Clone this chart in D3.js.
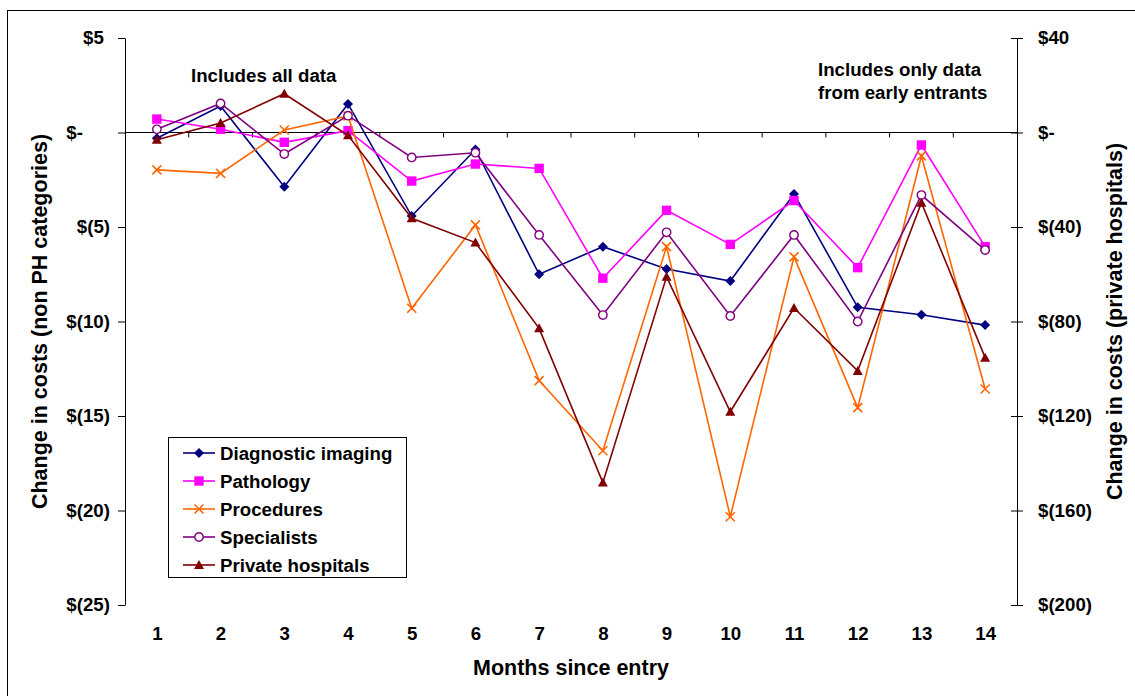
<!DOCTYPE html>
<html>
<head>
<meta charset="utf-8">
<script src="https://cdn.jsdelivr.net/npm/d3@7"></script>
<style>
  html, body { margin: 0; padding: 0; background: #fff; }
  svg { display: block; font-family: "Liberation Sans", Arial, sans-serif; }
</style>
</head>
<body>
<svg id="chart" width="1135" height="696"></svg>
<script>
// Months since entry
const categories = [1, 2, 3, 4, 5, 6, 7, 8, 9, 10, 11, 12, 13, 14];

// Change in costs, left axis (non PH categories)
const diagnosticImaging = [-0.3, 1.4, -2.87, 1.51, -4.42, -0.9, -7.5, -6.04, -7.22, -7.86, -3.25, -9.25, -9.64, -10.19];
const pathology        = [0.71, 0.17, -0.52, 0.1, -2.57, -1.67, -1.9, -7.71, -4.12, -5.92, -3.6, -7.15, -0.66, -6.04];
const procedures       = [-1.98, -2.16, 0.13, 0.87, -9.3, -4.89, -13.13, -16.84, -6.04, -20.33, -6.58, -14.56, -1.24, -13.57];
const specialists      = [0.17, 1.54, -1.14, 0.89, -1.32, -1.07, -5.42, -9.66, -5.28, -9.71, -5.42, -10.0, -3.31, -6.22];

// Change in costs, right axis (private hospitals)
const privateHospitals = [-3.1, 4.0, 16.4, -1.2, -36.3, -46.6, -82.9, -148.2, -61.1, -118.2, -74.3, -100.9, -29.7, -95.3];

// Axis ticks
const leftTicks  = [5, 0, -5, -10, -15, -20, -25];
const rightTicks = [40, 0, -40, -80, -120, -160, -200];

const seriesNames  = ["Diagnostic imaging", "Pathology", "Procedures", "Specialists", "Private hospitals"];
const seriesColors = ["#000080", "#FF00FF", "#FF6600", "#800080", "#800000"];
const seriesShapes = ["diamond", "square", "cross", "circle", "triangle"];

const series = [
  { name: seriesNames[0], values: diagnosticImaging, axis: "left" },
  { name: seriesNames[1], values: pathology, axis: "left" },
  { name: seriesNames[2], values: procedures, axis: "left" },
  { name: seriesNames[3], values: specialists, axis: "left" },
  { name: seriesNames[4], values: privateHospitals, axis: "right" }
].map((s, i) => ({ ...s, color: seriesColors[i], shape: seriesShapes[i] }));

const svg = d3.select("#chart");
const plot = { left: 125, right: 1017, top: 38, bottom: 605 };
const labelFont = 18.7;
const titleFont = 21.5;

// Outer chart frame
svg.append("rect")
  .attr("x", 7.5).attr("y", 10.5)
  .attr("width", 1140).attr("height", 700)
  .attr("fill", "#fff").attr("stroke", "#000").attr("stroke-width", 1);

const x = d3.scaleBand().domain(categories).range([plot.left, plot.right]);
const cx = d => x(d) + x.bandwidth() / 2;
const yLeft  = d3.scaleLinear().domain([-25, 5]).range([plot.bottom, plot.top]);
const yRight = d3.scaleLinear().domain([-200, 40]).range([plot.bottom, plot.top]);

// Accounting-style currency labels: $5, $-, $(5)
const money = v => v === 0 ? "$-" : (v > 0 ? "$" + v : "$(" + Math.abs(v) + ")");
// trailing padding so digits line up with the closing parenthesis
const trailPad = v => v > 0 ? 0.333 : (v === 0 ? 0.333 + 2 * 0.556 : 0);

// Left axis
const gLeft = svg.append("g")
  .attr("transform", `translate(${plot.left},0)`)
  .call(d3.axisLeft(yLeft).tickValues(leftTicks).tickFormat(money).tickSize(7).tickSizeOuter(0).tickPadding(8));
gLeft.select(".domain").attr("stroke", "#000");
gLeft.selectAll(".tick line").attr("stroke", "#000");
gLeft.selectAll(".tick text")
  .attr("font-size", labelFont).attr("font-weight", "bold").attr("fill", "#000")
  .attr("dx", d => (-trailPad(d)) + "em");

// Right axis (cross ticks)
const gRight = svg.append("g")
  .attr("transform", `translate(${plot.right},0)`)
  .call(d3.axisRight(yRight).tickValues(rightTicks).tickFormat(money).tickSize(6).tickSizeOuter(0).tickPadding(15));
gRight.select(".domain").attr("stroke", "#000");
gRight.selectAll(".tick line").attr("stroke", "#000").attr("x1", -6).attr("x2", 6);
gRight.selectAll(".tick text")
  .attr("font-size", labelFont).attr("font-weight", "bold").attr("fill", "#000")
  .attr("x", 21);

// Zero line with category dividers
const y0 = yLeft(0);
svg.append("line")
  .attr("x1", plot.left).attr("x2", plot.right)
  .attr("y1", y0).attr("y2", y0)
  .attr("stroke", "#000").attr("stroke-width", 1);
svg.append("g").selectAll("line")
  .data(categories.slice(1))
  .join("line")
  .attr("x1", d => x(d)).attr("x2", d => x(d))
  .attr("y1", y0).attr("y2", y0 + 5)
  .attr("stroke", "#000");

// Category labels along the bottom
const gX = svg.append("g")
  .attr("transform", `translate(0,640)`)
  .call(d3.axisBottom(d3.scalePoint().domain(categories).range([cx(1), cx(14)])).tickSize(0).tickPadding(0));
gX.select(".domain").remove();
gX.selectAll(".tick text")
  .attr("y", 0).attr("dy", null)
  .attr("font-size", labelFont).attr("font-weight", "bold").attr("fill", "#000");

// Axis titles
svg.append("text")
  .attr("transform", `translate(47,${(plot.top + plot.bottom) / 2}) rotate(-90)`)
  .attr("text-anchor", "middle")
  .attr("font-size", titleFont).attr("font-weight", "bold")
  .text("Change in costs (non PH categories)");
svg.append("text")
  .attr("transform", `translate(1122,${(plot.top + plot.bottom) / 2}) rotate(-90)`)
  .attr("text-anchor", "middle")
  .attr("font-size", titleFont).attr("font-weight", "bold")
  .text("Change in costs (private hospitals)");
svg.append("text")
  .attr("x", (plot.left + plot.right) / 2).attr("y", 675)
  .attr("text-anchor", "middle")
  .attr("font-size", titleFont).attr("font-weight", "bold")
  .text("Months since entry");

// Notes
svg.append("text")
  .attr("x", 191).attr("y", 82)
  .attr("font-size", labelFont).attr("font-weight", "bold")
  .text("Includes all data");
const note = svg.append("text")
  .attr("x", 818).attr("y", 76)
  .attr("font-size", labelFont).attr("font-weight", "bold");
note.append("tspan").attr("x", 818).text("Includes only data");
note.append("tspan").attr("x", 818).attr("dy", 23).text("from early entrants");

// Marker shapes
function marker(sel, shape, color) {
  if (shape === "circle") {
    sel.append("circle").attr("r", 4.2)
      .attr("fill", "#fff").attr("stroke", color).attr("stroke-width", 1.4);
  } else if (shape === "cross") {
    sel.append("path").attr("d", "M-4.5,-4.5L4.5,4.5M-4.5,4.5L4.5,-4.5")
      .attr("fill", "none").attr("stroke", color).attr("stroke-width", 1.6);
  } else {
    const paths = {
      diamond: "M0,-5L5,0L0,5L-5,0Z",
      square: "M-4.7,-4.7H4.7V4.7H-4.7Z",
      triangle: "M0,-5L5,4L-5,4Z"
    };
    sel.append("path").attr("d", paths[shape]).attr("fill", color).attr("stroke", "none");
  }
}

// Series lines and markers
series.forEach(s => {
  const y = s.axis === "left" ? yLeft : yRight;
  const line = d3.line().x((d, i) => cx(categories[i])).y(d => y(d));
  const g = svg.append("g");
  g.append("path")
    .attr("d", line(s.values))
    .attr("fill", "none").attr("stroke", s.color).attr("stroke-width", 1.6);
  g.selectAll("g.pt")
    .data(s.values)
    .join("g").attr("class", "pt")
    .attr("transform", (d, i) => `translate(${cx(categories[i])},${y(d)})`)
    .each(function () { marker(d3.select(this), s.shape, s.color); });
});

// Legend
const legend = svg.append("g");
legend.append("rect")
  .attr("x", 168.5).attr("y", 437.5).attr("width", 238).attr("height", 140)
  .attr("fill", "#fff").attr("stroke", "#000");
series.forEach((s, i) => {
  const ly = 453 + i * 28;
  legend.append("line")
    .attr("x1", 183).attr("x2", 215).attr("y1", ly).attr("y2", ly)
    .attr("stroke", s.color).attr("stroke-width", 1.6);
  const m = legend.append("g").attr("transform", `translate(199,${ly})`);
  marker(m, s.shape, s.color);
  legend.append("text")
    .attr("x", 220).attr("y", ly).attr("dy", "0.36em")
    .attr("font-size", labelFont).attr("font-weight", "bold")
    .text(s.name);
});
</script>
</body>
</html>
